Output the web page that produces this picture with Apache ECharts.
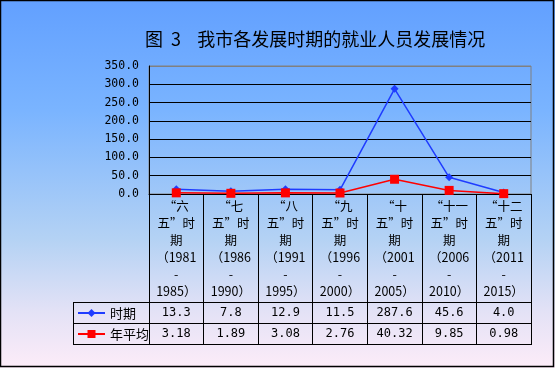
<!DOCTYPE html>
<html><head><meta charset="utf-8">
<script src="https://cdn.jsdelivr.net/npm/echarts@6/dist/echarts.min.js"></script>
<style>html,body{margin:0;padding:0;}#c{width:555px;height:368px;}</style>
</head><body><div id="c"></div>
<script>
var categories = ['“六\n五”时\n期\n（1981\n-\n1985）','“七\n五”时\n期\n（1986\n-\n1990）','“八\n五”时\n期\n（1991\n-\n1995）','“九\n五”时\n期\n（1996\n-\n2000）','“十\n五”时\n期\n（2001\n-\n2005）','“十一\n五”时\n期\n（2006\n-\n2010）','“十二\n五”时\n期\n（2011\n-\n2015）'];
var periodName = '时期';
var periodValues = [13.3, 7.8, 12.9, 11.5, 287.6, 45.6, 4.0];
var annualName = '年平均';
var annualValues = [3.18, 1.89, 3.08, 2.76, 40.32, 9.85, 0.98];
var periodLabels = ['13.3','7.8','12.9','11.5','287.6','45.6','4.0'];
var annualLabels = ['3.18','1.89','3.08','2.76','40.32','9.85','0.98'];
var titleText = '图  3    我市各发展时期的就业人员发展情况';

var mono = '"DejaVu Sans Mono", monospace';
var cjk = '"Noto Sans CJK SC", sans-serif';
var chart = echarts.init(document.getElementById('c'));
function valAxis(data, offset) {
  return {
    type: 'category', data: data, position: 'bottom', offset: offset, gridIndex: 0,
    axisLine: {show: false}, axisTick: {show: false}, splitLine: {show: false},
    axisLabel: {interval: 0, margin: 0, fontSize: 12, fontFamily: mono, color: '#000'}
  };
}
var option = {
  animation: false,
  backgroundColor: {type: 'linear', x: 0, y: 0, x2: 0, y2: 1, colorStops: [
    {offset: 0, color: '#62a0ff'}, {offset: 0.3, color: '#7ab4ff'}, {offset: 0.65, color: '#b4d2f4'}, {offset: 0.85, color: '#e4e2f6'}, {offset: 1, color: '#fdecf8'}]},
  title: {text: titleText, left: 140, top: 25, textStyle: {fontSize: 18, fontWeight: 'normal', fontFamily: cjk, color: '#000'}},
  grid: {left: 149, right: 24, top: 66, height: 128, show: true, borderColor: '#808080', borderWidth: 1},
  legend: {
    orient: 'vertical', left: 77, top: 306, itemGap: 7, itemWidth: 27, itemHeight: 10, padding: 0,
    textStyle: {fontSize: 13, lineHeight: 14, fontFamily: cjk, color: '#000'},
    data: [periodName, annualName]
  },
  xAxis: [{
    type: 'category', data: categories, boundaryGap: true,
    axisLine: {lineStyle: {color: '#000', width: 1}},
    axisTick: {show: true, interval: 0, length: 151, lineStyle: {color: '#000', width: 1}},
    axisLabel: {interval: 0, margin: 4, lineHeight: 17, fontSize: 12.5, fontFamily: cjk, color: '#000'},
    splitLine: {show: false}
  }, valAxis(periodLabels, 113), valAxis(annualLabels, 134)],
  yAxis: {
    type: 'value', min: 0, max: 350, interval: 50,
    axisLine: {show: true, lineStyle: {color: '#000'}},
    axisTick: {show: false},
    axisLabel: {margin: 10, fontSize: 11.5, fontFamily: mono, color: '#000', formatter: function (v) { return v.toFixed(1); }},
    splitLine: {lineStyle: {color: ['#000','#000','#000','#000','#000','#000','#000','#808080'], width: 1}}
  },
  series: [{
    name: periodName, type: 'line', data: periodValues, color: '#1f3cff',
    symbol: 'diamond', symbolSize: 8, lineStyle: {width: 1.5, color: '#1f3cff'}, itemStyle: {color: '#1f3cff'}, z: 3
  }, {
    name: annualName, type: 'line', data: annualValues, color: '#ff0000',
    symbol: 'rect', symbolSize: 9, lineStyle: {width: 1.5, color: '#ff0000'}, itemStyle: {color: '#ff0000'}, z: 4
  }],
  graphic: [
    {type: 'line', shape: {x1: 73, y1: 302.5, x2: 531, y2: 302.5}, style: {stroke: '#000', lineWidth: 1}},
    {type: 'line', shape: {x1: 73, y1: 323.5, x2: 531, y2: 323.5}, style: {stroke: '#000', lineWidth: 1}},
    {type: 'line', shape: {x1: 73, y1: 344.5, x2: 531, y2: 344.5}, style: {stroke: '#000', lineWidth: 1}},
    {type: 'line', shape: {x1: 73.5, y1: 302, x2: 73.5, y2: 345}, style: {stroke: '#000', lineWidth: 1}},
    {type: 'rect', shape: {x: 0.5, y: 0.5, width: 553, height: 366}, style: {fill: 'none', stroke: '#000', lineWidth: 1.5}}
  ]
};
chart.setOption(option);
</script></body></html>
